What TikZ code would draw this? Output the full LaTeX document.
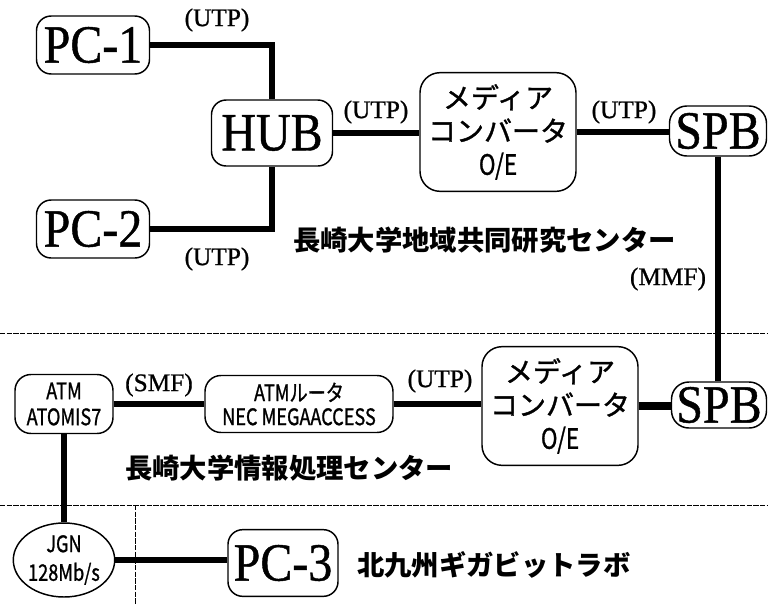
\documentclass[tikz,border=0pt]{standalone}
\usepackage{graphicx}
\usepackage{fontspec}
\setmainfont{Liberation Serif}
\newfontfamily\serifb[FakeBold=0.8]{Liberation Serif}
\newfontfamily\jp[FakeBold=1.2]{Noto Sans CJK JP}
\newfontfamily\jpt{Noto Sans CJK JP}
\usetikzlibrary{shapes.geometric}
\newcommand\tall[1]{\scalebox{1}[1.12]{#1}}
\newcommand\cond[1]{\scalebox{0.8}[1]{#1}}
\begin{document}
\begin{tikzpicture}[x=0.75pt,y=-0.75pt,
  box/.style={draw,rounded corners=11pt,line width=1.1pt,inner sep=0pt,align=center},
  big/.style={font=\serifb\fontsize{36}{40}\selectfont},
  lbl/.style={font=\serifb\fontsize{19}{21}\selectfont,inner sep=0pt},
  conv/.style={box,rounded corners=15pt,font=\jp\fontsize{21}{25}\selectfont,minimum width=117pt,minimum height=89pt},
  small/.style={font=\jp\fontsize{17}{19.5}\selectfont},
  title/.style={font=\jpt\bfseries\fontsize{20.5}{22}\selectfont,anchor=west,inner sep=0pt},
  link/.style={line width=5pt},
  sep/.style={dash pattern=on 4pt off 1pt,line width=0.6pt}]
\useasboundingbox (0,0) rectangle (768,604);

% separators
\draw[sep] (0,333) -- (768,333);
\draw[sep] (0,505) -- (768,505);
\draw[sep] (135,505) -- (135,604);

% upper section nodes
\node[box,big,minimum width=84.75pt,minimum height=43.5pt] (pc1) at (93,45) {\tall{PC-1}};
\node[box,big,minimum width=84.75pt,minimum height=43.5pt] (pc2) at (93,229) {\tall{PC-2}};
\node[box,big,minimum width=90.75pt,minimum height=49.5pt] (hub) at (272,133) {\tall{HUB}};
\node[conv] (mc1) at (498,132) {メディア\\コンバータ\\\cond{O/E}};
\node[box,big,rounded corners=13pt,minimum width=72.75pt,minimum height=37.5pt] (spb1) at (718,131) {\tall{SPB}};

% lower section nodes
\node[box,small,rounded corners=12pt,minimum width=73.5pt,minimum height=44.25pt] (atm) at (64,404) {\cond{ATM}\\\cond{ATOMIS7}};
\node[box,small,font=\jp\fontsize{17}{18}\selectfont,rounded corners=12pt,minimum width=141pt,minimum height=42.75pt] (router) at (299,404) {\cond{ATMルータ}\\\cond{NEC MEGAACCESS}};
\node[conv] (mc2) at (560,406) {メディア\\コンバータ\\\cond{O/E}};
\node[box,big,rounded corners=13pt,minimum width=71.25pt,minimum height=34.5pt] (spb2) at (719,405) {\tall{SPB}};
\node[draw,ellipse,line width=1.1pt,inner sep=0pt,align=center,small,minimum width=73.5pt,minimum height=55.5pt] (jgn) at (64,560) {\cond{JGN}\\[2pt]\cond{128Mb/s}};
\node[box,big,minimum width=82.5pt,minimum height=50pt] (pc3) at (283,563) {\tall{PC-3}};

% connectors
\draw[link] (pc1.east) -| (hub.north);
\draw[link] (pc2.east) -| (hub.south);
\draw[link] (hub.east) -- (hub.east -| mc1.west);
\draw[link] (mc1.east) -- (mc1.east -| spb1.west);
\draw[link] (spb1.south) -- (spb1.south |- spb2.north);
\draw[link] (atm.east) -- (atm.east -| router.west);
\draw[link] (router.east) -- (router.east -| mc2.west);
\draw[link,line width=6.5pt] (mc2.east) -- (mc2.east -| spb2.west);
\draw[link] (atm.south) -- (atm.south |- jgn.north);
\draw[link] (jgn.east) -- (jgn.east -| pc3.west);

% connector labels
\node[lbl] (u1) at (217,20) {(UTP)};
\node[lbl] (u2) at (217,259) {(UTP)};
\node[lbl] (u3) at (376,112) {(UTP)};
\node[lbl] (u4) at (624,112) {(UTP)};
\node[lbl] (mmf) at (668,279) {(MMF)};
\node[lbl] (smf) at (159,385) {(SMF)};
\node[lbl] (u5) at (440,381) {(UTP)};

% titles
\node[title] (t1) at (293,240) {長崎大学地域共同研究センター};
\node[title] (t2) at (125,468) {長崎大学情報処理センター};
\node[title] (t3) at (357,565) {北九州ギガビットラボ};
\end{tikzpicture}
\end{document}
